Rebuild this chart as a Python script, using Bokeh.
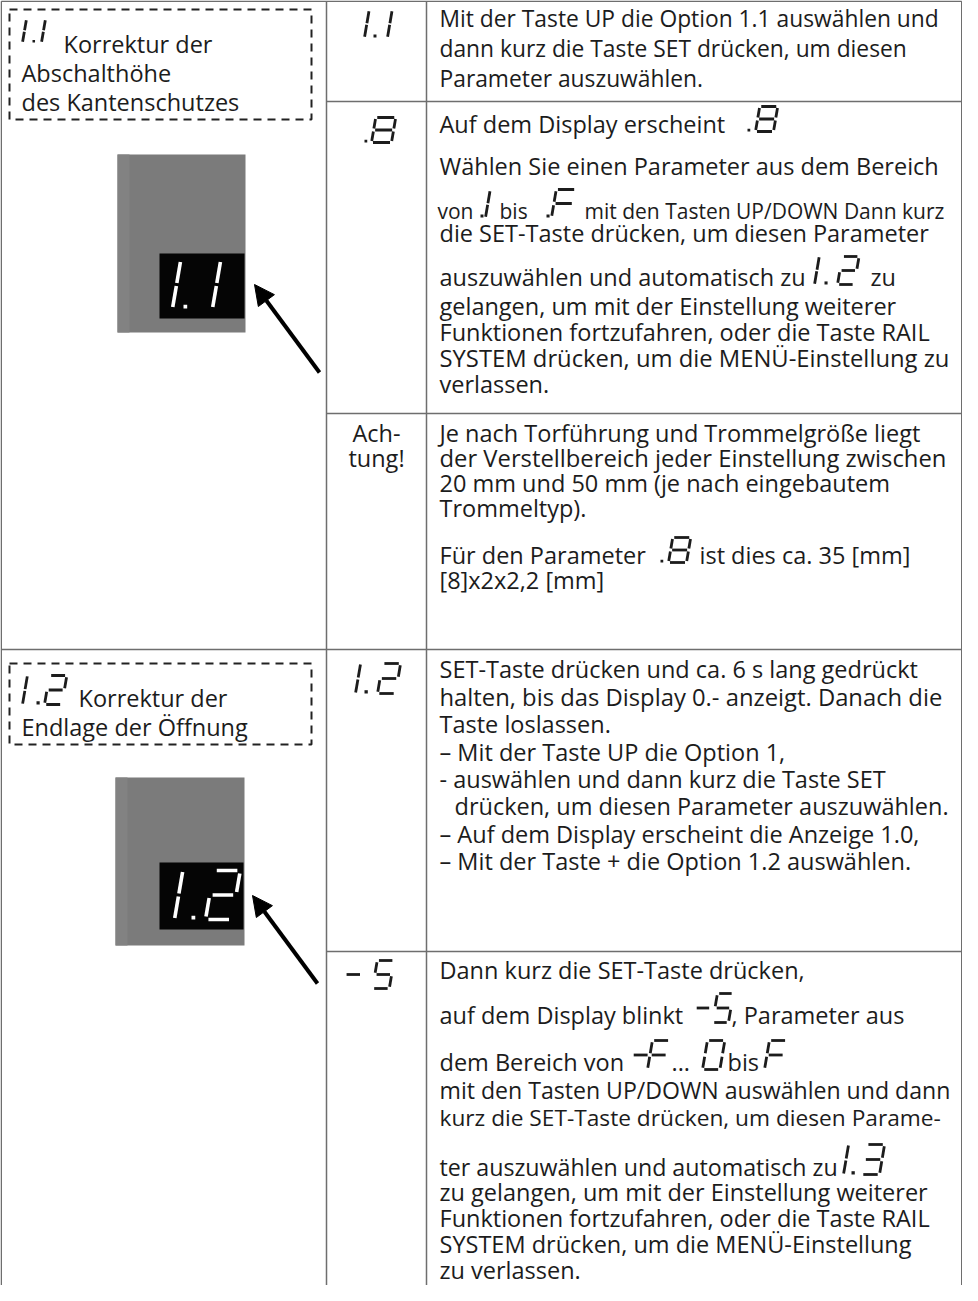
from bokeh.plotting import figure
from bokeh.models import Range1d, Arrow, NormalHead, ColumnDataSource
from bokeh.core.properties import value
from bokeh.embed import file_html
from bokeh.resources import INLINE

# ---------------- data: texts ----------------
FONT = "Open Sans"
TXT = "#1c1c1c"
LINE = "#6e6e6e"

left_texts = ["Korrektur der", "Abschalthöhe", "des Kantenschutzes",
              "Korrektur der", "Endlage der Öffnung"]
left_x = [71, 29, 29, 86, 29]
left_y = [59, 88, 117, 713, 742]

col2_texts = ["Ach-", "tung!"]
col2_y = [448, 473]

row1_texts = [
    "Mit der Taste UP die Option 1.1 auswählen und",
    "dann kurz die Taste SET drücken, um diesen",
    "Parameter auszuwählen.",
]
row1_y = [33, 63, 93]

body_texts = [
    "Auf dem Display erscheint",
    "Wählen Sie einen Parameter aus dem Bereich",
    "die SET-Taste drücken, um diesen Parameter",
    "auszuwählen und automatisch zu",
    "zu",
    "gelangen, um mit der Einstellung weiterer",
    "Funktionen fortzufahren, oder die Taste RAIL",
    "SYSTEM drücken, um die MENÜ-Einstellung zu",
    "verlassen.",
    "Je nach Torführung und Trommelgröße liegt",
    "der Verstellbereich jeder Einstellung zwischen",
    "20 mm und 50 mm (je nach eingebautem",
    "Trommeltyp).",
    " Für den Parameter",
    "ist dies ca. 35 [mm]",
    "[8]x2x2,2 [mm]",
    "SET-Taste drücken und ca. 6 s lang gedrückt",
    "halten, bis das Display 0.- anzeigt. Danach die",
    "Taste loslassen.",
    "– Mit der Taste UP die Option 1,",
    "- auswählen und dann kurz die Taste SET",
    "drücken, um diesen Parameter auszuwählen.",
    "– Auf dem Display erscheint die Anzeige 1.0,",
    "– Mit der Taste + die Option 1.2 auswählen.",
    "Dann kurz die SET-Taste drücken,",
    "auf dem Display blinkt",
    ", Parameter aus",
    "dem Bereich von",
    "...",
    "bis",
    "mit den Tasten UP/DOWN auswählen und dann",
    "kurz die SET-Taste drücken, um diesen Parame-",
    "ter auszuwählen und automatisch zu",
    "zu gelangen, um mit der Einstellung weiterer",
    "Funktionen fortzufahren, oder die Taste RAIL",
    "SYSTEM drücken, um die MENÜ-Einstellung",
    "zu verlassen.",
]
body_x = [447, 447, 447, 447, 878, 447, 447, 447, 447,
          447, 447, 447, 447, 447, 707, 447,
          447, 447, 447, 447, 447, 462, 447, 447,
          447, 447, 739, 447, 679, 735, 447, 447, 447, 447, 447, 447, 447]
body_y = [139, 181, 248, 292, 292, 321, 347, 373, 399,
          448, 473, 498, 523, 570, 570, 595,
          684, 712, 739, 767, 794, 821, 849, 876,
          985, 1030, 1030, 1077, 1077, 1077, 1104, 1132, 1181, 1207, 1233, 1259, 1285]
body_px = [23.5, 23.5, 23.5, 23.5, 23.5, 23.5, 23.5, 23.8, 23.5,
           23.5, 23.8, 23.5, 23.5, 23.5, 23.5, 23.5,
           23.5, 23.8, 23.5, 23.5, 23.5, 23.5, 23.5, 23.5,
           23.5, 23.5, 23.5, 23.5, 23.5, 23.5, 23.1, 22.7, 23.2, 23.5, 23.5, 23.5, 23.5]

small_texts = ["von", "bis", "mit den Tasten UP/DOWN Dann kurz"]
small_x = [445, 507, 592]
small_y = [225, 225, 225]

# seven-segment labels: characters, left x of each character, baseline, height, cell width
seg_chars = ["1.1", ".8", "1.2", "-5", "1.1", "1.2",
             ".8", ".1", ".F", "1.2", ".8", "-5", "-F", "0", "F", "1.3"]
seg_xs = [[372, 381, 395], [372, 379], [363, 372, 385], [350, 380],
          [30, 40, 49], [30, 44, 52],
          [755, 763], [488, 493], [554, 559], [822, 832, 845], [668, 676],
          [700, 720], [637, 655], [710], [772], [851, 859, 869]]
seg_base = [45, 150, 701, 996, 50, 712, 139, 225, 225, 292, 570, 1030, 1077, 1077, 1077, 1182]
seg_h = [27, 25, 30, 28, 23, 29, 25, 27, 28, 28, 25, 29, 29, 29, 29, 30]
seg_w = [0.6, 0.8, 0.6, 0.6, 0.6, 0.6, 0.72, 0.6, 0.7, 0.6, 0.72, 0.55, 0.6, 0.6, 0.6, 0.6]

disp_chars = ["1.1", "1.2"]
disp_xs = [[180, 191, 220], [182, 199, 213]]
disp_base = [316, 927]
disp_h = [48, 49]
disp_w = [0.5, 0.54]

# pictures (grey photo with black display) and arrows
photo_l = [125, 123]; photo_r = [253, 252]; photo_t = [162, 785]; photo_b = [340, 953]
strip_r = [137, 135]
disp_l = [167, 167]; disp_r = [252, 251]; disp_t = [261, 870]; disp_b = [326, 937]
arrow_x0 = [327, 325]; arrow_y0 = [380, 991]; arrow_x1 = [262, 260]; arrow_y1 = [292, 903]

# dashed title boxes
box_l = [17, 17]; box_r = [319, 319]; box_t = [17, 671]; box_b = [127, 752]

# table rules
col_lines = [8.75, 334, 434, 969.25]
row_lines_right = [109, 421, 959]
row_lines_full = [8.75, 657]

# ---------------- seven segment helper ----------------
SEG = {
    "0": "abcdef", "1": "bc", "2": "abged", "3": "abgcd", "5": "afgcd",
    "8": "abcdefg", "F": "afge", "-": "g",
}


def seg_geometry(chars, xs, base, h, w, slant=0.17, gap=0.06):
    lx, ly, dots = [], [], []
    for ch, x in zip(chars, xs):
        if ch == ".":
            dots.append((x, base, 0.11 * h))
            continue
        cw = 0.0 if ch == "1" else w
        g1 = 0.03 if ch == "1" else gap
        pts = {
            "a": ((gap, 1), (cw - gap, 1)),
            "b": ((cw, 1 - g1), (cw, 0.5 + g1)),
            "c": ((cw, 0.5 - g1), (cw, g1)),
            "d": ((gap, 0), (cw - gap, 0)),
            "e": ((0, 0.5 - gap), (0, gap)),
            "f": ((0, 1 - gap), (0, 0.5 + gap)),
            "g": ((gap, 0.5), (cw - gap, 0.5)),
        }
        for s in SEG[ch]:
            (u0, v0), (u1, v1) = pts[s]
            lx.append([x + (u0 + slant * v0) * h, x + (u1 + slant * v1) * h])
            ly.append([base - v0 * h, base - v1 * h])
    return lx, ly, dots


# ---------------- figure ----------------
W, H = 962, 1285
p = figure(width=W, height=H, x_range=Range1d(8, 8 + W), y_range=Range1d(8 + H, 8),
           output_backend="svg", toolbar_location=None, min_border=0,
           x_axis_location=None, y_axis_location=None)
p.grid.visible = False
p.outline_line_color = None
p.background_fill_color = "white"
p.border_fill_color = "white"

# table rules
p.segment(x0=col_lines, y0=[8.75] * 4, x1=col_lines, y1=[1293] * 4,
          line_color=LINE, line_width=1.5)
p.segment(x0=[334] * 3, y0=row_lines_right, x1=[969.25] * 3, y1=row_lines_right,
          line_color=LINE, line_width=1.5)
p.segment(x0=[8.75] * 2, y0=row_lines_full, x1=[969.25] * 2, y1=row_lines_full,
          line_color=LINE, line_width=1.5)

# dashed boxes
p.quad(left=box_l, right=box_r, top=box_t, bottom=box_b, fill_color=None,
       line_color="#222222", line_width=2, line_dash="8 6")

# photos
p.quad(left=photo_l, right=photo_r, top=photo_t, bottom=photo_b,
       fill_color="#7b7b7b", line_color=None)
p.quad(left=photo_l, right=strip_r, top=photo_t, bottom=photo_b,
       fill_color="#828282", line_color=None)
p.quad(left=disp_l, right=disp_r, top=disp_t, bottom=disp_b,
       fill_color="#050505", line_color=None)

for x0, y0, x1, y1 in zip(arrow_x0, arrow_y0, arrow_x1, arrow_y1):
    p.add_layout(Arrow(end=NormalHead(size=20, fill_color="black", line_color="black"),
                       x_start=x0, y_start=y0, x_end=x1, y_end=y1,
                       line_width=4, line_color="black"))

# seven segment glyphs (black)
allx, ally, dl, dr, dt, db = [], [], [], [], [], []
for ch, xs, b, h, w in zip(seg_chars, seg_xs, seg_base, seg_h, seg_w):
    lx, ly, dots = seg_geometry(ch, xs, b, h, w)
    allx += lx; ally += ly
    for (dx, dy, ds) in dots:
        dl.append(dx); dr.append(dx + ds); dt.append(dy - ds); db.append(dy)
p.multi_line(xs=allx, ys=ally, line_color="#1c1c1c", line_width=2.8, line_cap="butt")
p.quad(left=dl, right=dr, top=dt, bottom=db, fill_color="#1c1c1c", line_color=None)

# display digits (white)
wx, wy, wl, wr, wt, wb = [], [], [], [], [], []
for ch, xs, b, h, w in zip(disp_chars, disp_xs, disp_base, disp_h, disp_w):
    lx, ly, dots = seg_geometry(ch, xs, b, h, w)
    wx += lx; wy += ly
    for (dx, dy, ds) in dots:
        wl.append(dx); wr.append(dx + ds * 0.7); wt.append(dy - ds * 0.7); wb.append(dy)
p.multi_line(xs=wx, ys=wy, line_color="white", line_width=3.6, line_cap="butt")
p.quad(left=wl, right=wr, top=wt, bottom=wb, fill_color="white", line_color=None)


# texts (baseline correction for the renderer's text placement)
def put_text(xs, ys, texts, sizes, align="left"):
    if not isinstance(sizes, list):
        sizes = [sizes] * len(texts)
    src = ColumnDataSource(dict(
        x=xs, y=[y - 0.3 * s for y, s in zip(ys, sizes)], text=texts,
        fs=[f"{s}px" for s in sizes]))
    p.text(x="x", y="y", text="text", source=src, text_font=value(FONT),
           text_color=TXT, text_baseline="alphabetic", text_align=align,
           text_font_size="fs")


put_text(left_x, left_y, left_texts, 23.5)
put_text([384, 384], col2_y, col2_texts, 23.5, "center")
put_text([447] * 3, row1_y, row1_texts, 22.8)
put_text(body_x, body_y, body_texts, body_px)
put_text(small_x, small_y, small_texts, 21)

open("out.html", "w").write(file_html(p, INLINE))
